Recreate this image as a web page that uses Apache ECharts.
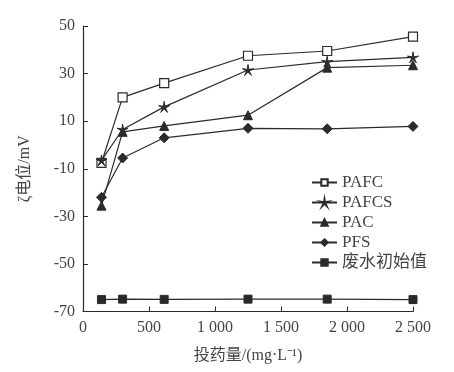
<!DOCTYPE html>
<html><head><meta charset="utf-8">
<script src="https://cdn.jsdelivr.net/npm/echarts@6/dist/echarts.min.js"></script>
<style>html,body{margin:0;padding:0;background:#fff}#c{width:454px;height:372px}</style>
</head><body><div id="c"></div>
<script>
var doses = [140, 300, 615, 1250, 1850, 2500];
var PAFC  = [-7.5, 20, 26, 37.5, 39.5, 45.5];
var PAFCS = [-6.5, 6.5, 16, 31.5, 35, 36.8];
var PAC   = [-25.5, 5.5, 8, 12.5, 32.5, 33.5];
var PFS   = [-22, -5.5, 3, 7, 6.8, 7.8];
var RAW   = [-65, -64.8, -64.9, -64.8, -64.8, -65];
var seriesNames = ['PAFC', 'PAFCS', 'PAC', 'PFS', '废水初始值'];
var xTicks = ['0', '500', '1 000', '1 500', '2 000', '2 500'];

function starPath() {
  var p = [];
  for (var i = 0; i < 10; i++) {
    var r = i % 2 === 0 ? 50 : 12;
    var a = -Math.PI / 2 + i * Math.PI / 5;
    p.push((i === 0 ? 'M' : 'L') + (50 + r * Math.cos(a)).toFixed(2) + ' ' + (50 + r * Math.sin(a)).toFixed(2));
  }
  return 'path://' + p.join(' ') + ' Z';
}
function pairs(ys) { return doses.map(function (x, i) { return [x, ys[i]]; }); }

var ink = '#2a2a2a';
var serif = '"Liberation Serif", "Noto Sans CJK SC", serif';
var base = { type: 'line', lineStyle: { color: ink, width: 1.2 }, itemStyle: { color: ink, borderColor: ink, borderWidth: 1 }, emphasis: { disabled: true } };
function mk(name, ys, symbol, size, extra) {
  var s = Object.assign({}, base, { name: name, data: pairs(ys), symbol: symbol, symbolSize: size });
  if (extra) s.itemStyle = Object.assign({}, base.itemStyle, extra);
  return s;
}

var chart = echarts.init(document.getElementById('c'), null, { renderer: 'canvas' });
chart.setOption({
  animation: false,
  textStyle: { fontFamily: serif },
  grid: { left: 83, right: 41, top: 26, bottom: 60.5, containLabel: false },
  xAxis: {
    type: 'value', min: 0, max: 2500, interval: 500,
    name: '投药量/(mg·L⁻¹)', nameLocation: 'middle', nameGap: 36,
    nameTextStyle: { color: '#444', fontSize: 16, fontFamily: serif },
    axisLine: { onZero: false, lineStyle: { color: ink, width: 1.2 } },
    axisTick: { inside: true, length: 5, lineStyle: { color: ink } },
    axisLabel: { color: '#444', fontSize: 16, margin: 8, formatter: function (v) { return xTicks[Math.round(v / 500)]; } },
    splitLine: { show: false }
  },
  yAxis: {
    type: 'value', min: -70, max: 50, interval: 20,
    name: 'ζ电位/mV', nameLocation: 'middle', nameGap: 50, nameRotate: 90,
    nameTextStyle: { color: '#444', fontSize: 16, fontFamily: serif },
    axisLine: { show: true, onZero: false, lineStyle: { color: ink, width: 1.2 } },
    axisTick: { show: true, inside: true, length: 5, lineStyle: { color: ink } },
    axisLabel: { color: '#444', fontSize: 16, margin: 8 },
    splitLine: { show: false }
  },
  legend: {
    orient: 'vertical', left: 306, top: 169, itemWidth: 25, itemHeight: 8, itemGap: 3,
    textStyle: { color: '#444', fontSize: 17, fontFamily: serif },
    data: seriesNames
  },
  series: [
    mk(seriesNames[0], PAFC, 'rect', 9, { color: '#fff', borderColor: ink, borderWidth: 1.2 }),
    mk(seriesNames[1], PAFCS, starPath(), 11),
    mk(seriesNames[2], PAC, 'triangle', 9),
    mk(seriesNames[3], PFS, 'diamond', 10),
    mk(seriesNames[4], RAW, 'rect', 8)
  ]
});
</script></body></html>
